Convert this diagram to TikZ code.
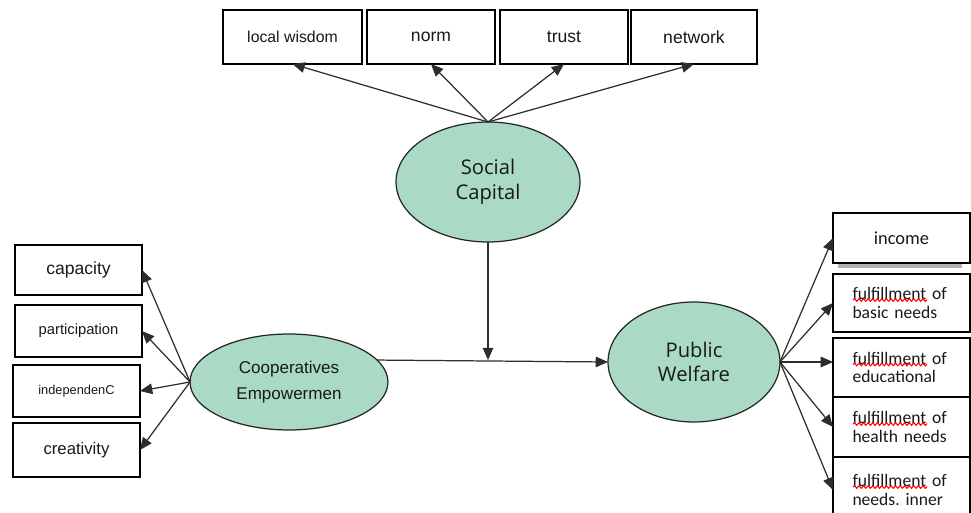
\documentclass[tikz,border=0pt]{standalone}
\usepackage{fontspec}
\setmainfont{Liberation Sans}
\newfontfamily\latentfont{Open Sans}
\newfontfamily\needsfont{Carlito}
\usetikzlibrary{calc, shapes.geometric, arrows.meta, decorations.pathmorphing}

\definecolor{latentgreen}{RGB}{170,218,195}
\definecolor{arrowgrey}{RGB}{45,45,45}

\tikzset{
  indicator/.style={draw, line width=0.9pt, fill=white, inner sep=0pt, outer sep=0pt, text=black!90},
  needs/.style={indicator, text width=1.96cm, inner xsep=0.39cm, align=left, font=\needsfont\frenchspacing\fontsize{10}{10.5}\selectfont},
  latent/.style={ellipse, draw=black!85, line width=0.7pt, fill=latentgreen, inner sep=0pt, outer sep=0pt, align=center, text=black!90},
  load/.style={-{Triangle[length=7pt,width=6pt]}, draw=arrowgrey, line width=0.7pt},
  spellwave/.style={draw=red, line width=0.6pt, decorate, decoration={snake, amplitude=0.75pt, segment length=2.6pt}},
}

\begin{document}
\begin{tikzpicture}[x=0.02cm, y=-0.02cm]
  % Fix the frame of the picture
  \useasboundingbox (0,0) rectangle (971,513);
  \clip (0,0) rectangle (971,513);

  % Draw the three latent variables
  \node[latent, minimum width=3.68cm, minimum height=2.4cm, font=\latentfont\fontsize{11.5}{14}\selectfont] (sc) at (488,182) {Social\\Capital};
  \node[latent, minimum width=3.96cm, minimum height=1.92cm, font=\fontsize{9.7}{15}\selectfont] (coop) at (289,382) {Cooperatives\\Empowermen};
  \node[latent, minimum width=3.44cm, minimum height=2.4cm, font=\latentfont\fontsize{11.5}{14}\selectfont] (pw) at (694,362) {Public\\Welfare};

  % Indicators of social capital
  \node[indicator, minimum width=2.78cm, minimum height=1.08cm, font=\fontsize{9}{10}\selectfont] (lw) at (292.5,37) {local wisdom};
  \node[indicator, minimum width=2.56cm, minimum height=1.08cm, font=\fontsize{10}{11}\selectfont] (norm) at (431,37) {norm};
  \node[indicator, minimum width=2.56cm, minimum height=1.08cm, font=\fontsize{10}{11}\selectfont] (trust) at (564,37) {trust};
  \node[indicator, minimum width=2.52cm, minimum height=1.08cm, font=\fontsize{10}{11}\selectfont] (net) at (694,37) {network};

  % Indicators of empowerment
  \node[indicator, minimum width=2.54cm, minimum height=1.0cm, font=\fontsize{10}{11}\selectfont] (cap) at (78.5,270) {capacity};
  \node[indicator, minimum width=2.54cm, minimum height=1.04cm, font=\fontsize{8.4}{10}\selectfont] (part) at (78.5,331) {participation};
  \node[indicator, minimum width=2.54cm, minimum height=1.04cm, font=\fontsize{7.3}{9}\selectfont] (indep) at (76.5,391) {independenC};
  \node[indicator, minimum width=2.54cm, minimum height=1.08cm, font=\fontsize{9.5}{11}\selectfont] (crea) at (76.5,450) {creativity};

  % Indicators of welfare
  \node[indicator, minimum width=2.74cm, minimum height=1.0cm, font=\needsfont\fontsize{10.5}{11}\selectfont] (inc) at (901.5,238) {income};
  \fill[gray!60] ($(inc.south west)+(5,1)$) rectangle ($(inc.south east)+(-8,5)$);
  \node[needs, minimum height=1.16cm] (basic) at (901.5,303) {fulfillment of\\basic needs};
  \node[needs, minimum height=1.18cm] (edu) at (901.5,367.5) {fulfillment of\\educational};
  \node[needs, minimum height=1.2cm] (health) at (901.5,427) {fulfillment of\\health needs};
  \node[needs, minimum height=1.32cm] (inner) at (901.5,490) {fulfillment of\\needs. inner};

  % spell-check marks under the first word
  \foreach \ind in {basic,edu,health,inner}
    \draw[spellwave] ($(\ind.west)+(20,-3)$) -- ++(74,0);

  % Loadings
  \foreach \ind in {lw,norm,trust,net}
    \draw[load] (sc.north) -- (\ind.south);
  \foreach \ind in {cap,part,indep,crea}
    \draw[load] (coop.west) -- (\ind.east);
  \foreach \ind in {inc,basic,health,inner}
    \draw[load] (pw.east) -- (\ind.west);
  \draw[load] (pw.east) -- (pw.east -| edu.west);

  % Path between the constructs, moderated by social capital
  \draw[load] (coop.14) -- (pw.west);
  \draw[load] (sc.south) -- (sc.south |- coop.14);

\end{tikzpicture}
\end{document}
